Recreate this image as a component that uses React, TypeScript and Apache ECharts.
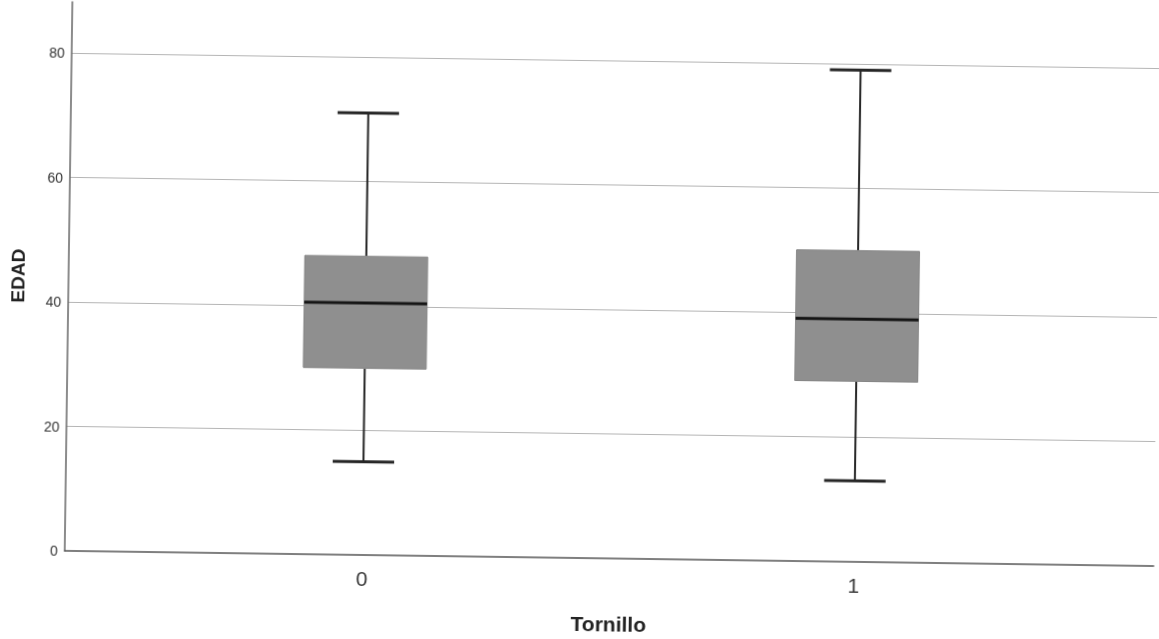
import React, { useEffect, useRef } from 'react';
import * as echarts from 'echarts';

// Boxplot of EDAD by Tornillo
const categories = ['0', '1'];
const lowerWhisker = [15, 13];
const q1 = [30, 29];
const median = [40.5, 39];
const q3 = [48, 50];
const upperWhisker = [71, 79];
const yTickLabels = [0, 20, 40, 60, 80];

const BOX_WIDTH = 0.25; // in x-axis units

const renderItem = (params: any, api: any) => {
  const x = api.value(0);
  const pLow = api.coord([x, api.value(1)]);
  const pQ1 = api.coord([x, api.value(2)]);
  const pMed = api.coord([x, api.value(3)]);
  const pQ3 = api.coord([x, api.value(4)]);
  const pHigh = api.coord([x, api.value(5)]);
  const w = api.size([BOX_WIDTH, 0])[0];
  const cx = pMed[0];
  const hw = w / 2;
  const cw = w / 4;
  const whisker = { stroke: '#262626', lineWidth: 2 };
  const cap = { stroke: '#262626', lineWidth: 3 };
  return {
    type: 'group',
    children: [
      { type: 'line', shape: { x1: cx, y1: pHigh[1], x2: cx, y2: pQ3[1] }, style: whisker },
      { type: 'line', shape: { x1: cx, y1: pQ1[1], x2: cx, y2: pLow[1] }, style: whisker },
      { type: 'line', shape: { x1: cx - cw, y1: pHigh[1], x2: cx + cw, y2: pHigh[1] }, style: cap },
      { type: 'line', shape: { x1: cx - cw, y1: pLow[1], x2: cx + cw, y2: pLow[1] }, style: cap },
      {
        type: 'rect',
        shape: { x: cx - hw, y: pQ3[1], width: w, height: pQ1[1] - pQ3[1] },
        style: { fill: '#8f8f8f', stroke: '#858585', lineWidth: 1 },
      },
      { type: 'line', shape: { x1: cx - hw, y1: pMed[1], x2: cx + hw, y2: pMed[1] }, style: { stroke: '#151515', lineWidth: 3 } },
    ],
  };
};

export default function App() {
  const ref = useRef<HTMLDivElement>(null);
  useEffect(() => {
    if (!ref.current) return;
    const chart = echarts.init(ref.current, null, { renderer: 'svg' });
    const data = categories.map((_, i) => [i, lowerWhisker[i], q1[i], median[i], q3[i], upperWhisker[i]]);
    chart.setOption({
      animation: false,
      backgroundColor: '#ffffff',
      grid: { left: 63, right: 2, top: 9, bottom: 80 },
      xAxis: {
        type: 'value',
        min: -0.605,
        max: 1.61,
        name: 'Tornillo',
        nameLocation: 'middle',
        nameGap: 55,
        nameTextStyle: { fontFamily: 'Liberation Sans, Arial, sans-serif', fontSize: 21, fontWeight: 'bold', color: '#222' },
        axisLine: { show: true, onZero: false, lineStyle: { color: '#555', width: 1.5 } },
        axisTick: { show: false },
        splitLine: { show: false },
        axisLabel: {
          margin: 13,
          fontFamily: 'Liberation Sans Narrow, Liberation Sans, Arial, sans-serif',
          fontSize: 21,
          color: '#3a3a3a',
          showMinLabel: false,
          showMaxLabel: false,
          formatter: (v: number) => {
            const r = Math.round(v);
            return Math.abs(v - r) < 1e-9 && categories[r] !== undefined ? categories[r] : '';
          },
        },
      },
      yAxis: {
        type: 'value',
        min: 0,
        max: 88.2,
        interval: 20,
        name: 'EDAD',
        nameLocation: 'middle',
        nameGap: 41,
        nameTextStyle: { fontFamily: 'Liberation Sans, Arial, sans-serif', fontSize: 19, fontWeight: 'bold', color: '#222' },
        axisLine: { show: true, onZero: false, lineStyle: { color: '#666', width: 1.5 } },
        axisTick: { show: false },
        splitLine: { show: true, showMaxLine: false, showMinLine: false, lineStyle: { color: '#b5b5b5', width: 1 } },
        axisLabel: {
          margin: 7,
          fontFamily: 'Liberation Sans, Arial, sans-serif',
          fontSize: 14,
          color: '#333',
          showMaxLabel: false,
          formatter: (v: number) => (yTickLabels.includes(v) ? String(v) : ''),
        },
      },
      series: [
        {
          type: 'custom',
          data,
          encode: { x: 0, y: [1, 2, 3, 4, 5] },
          renderItem,
        },
      ],
    });
    return () => chart.dispose();
  }, []);
  return (
    <div
      ref={ref}
      style={{
        position: 'fixed',
        left: 0,
        top: 0,
        width: 1159,
        height: 639,
        transform: 'rotate(0.8deg)',
        transformOrigin: '50% 50%',
      }}
    />
  );
}
